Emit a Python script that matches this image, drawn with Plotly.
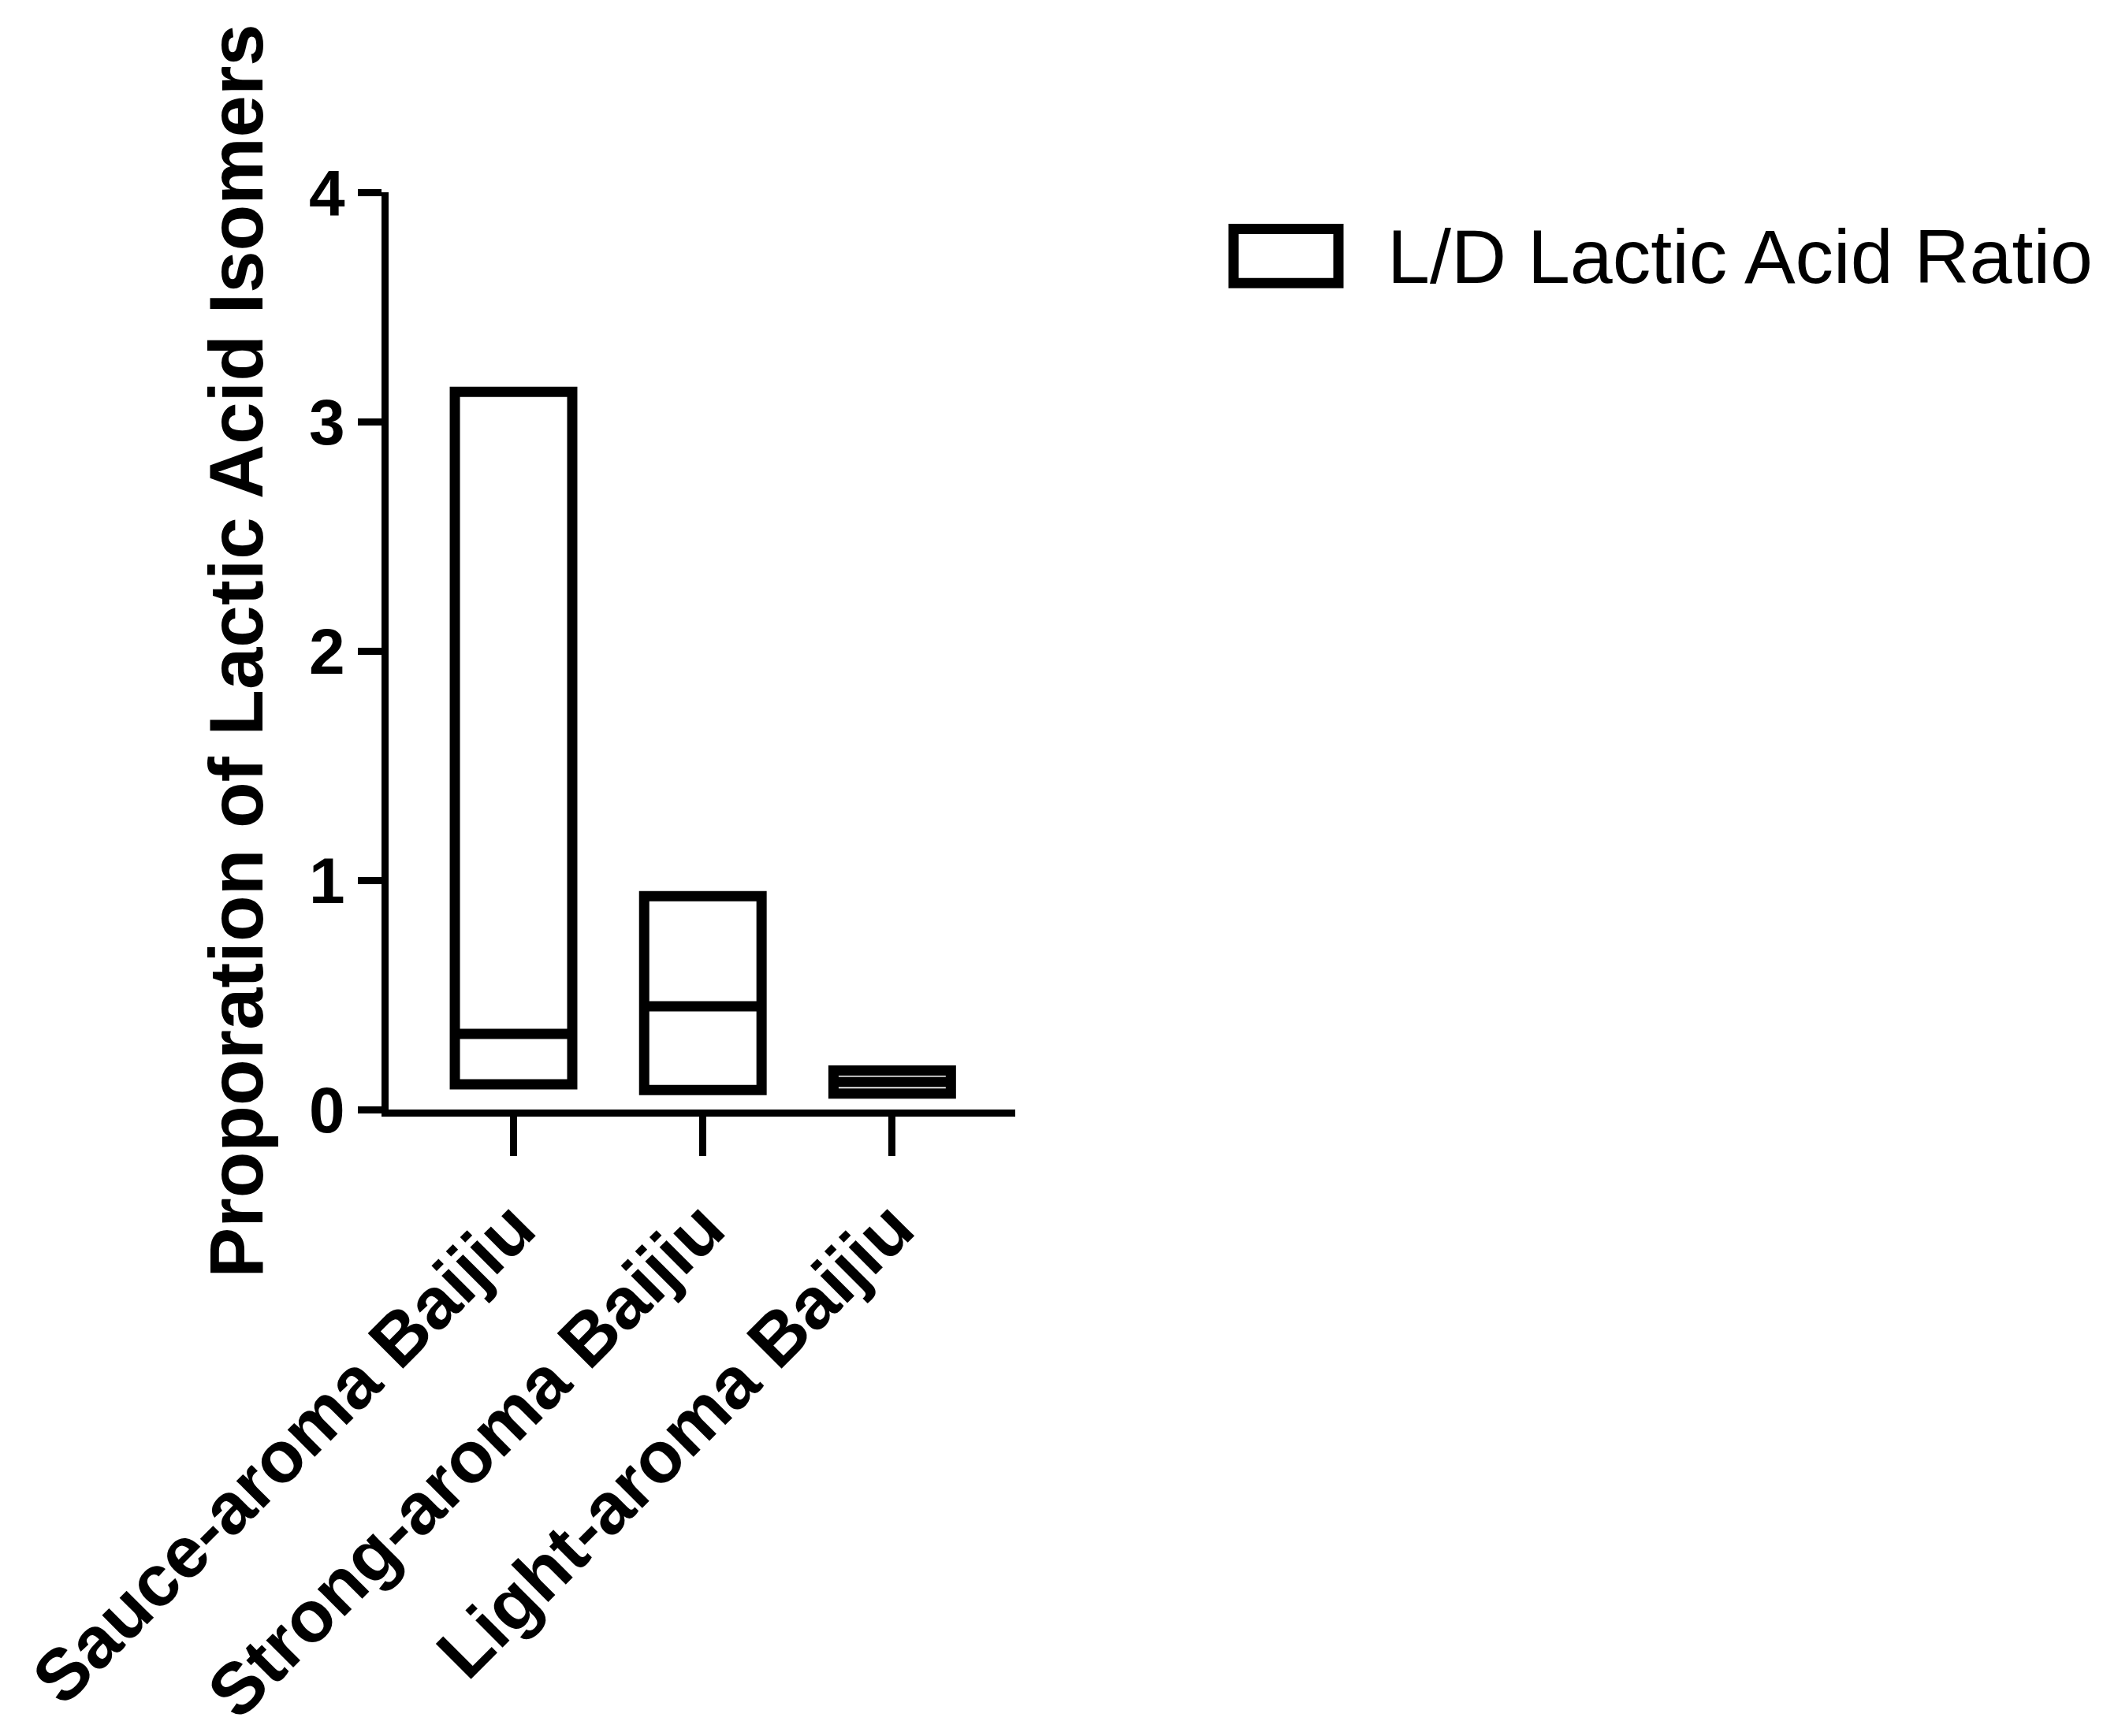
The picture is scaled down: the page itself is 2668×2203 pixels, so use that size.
import plotly.graph_objects as go

categories = ["Sauce-aroma Baijiu", "Strong-aroma Baijiu", "Light-aroma Baijiu"]
min_vals = [0.11, 0.085, 0.07]
max_vals = [3.13, 0.93, 0.17]
median_vals = [0.33, 0.45, 0.12]
y_ticks = [0, 1, 2, 3, 4]

xs = list(range(len(categories)))
bw = 0.62
lw = 13
fig = go.Figure()
fig.add_trace(go.Bar(
    x=xs, y=[mx - mn for mx, mn in zip(max_vals, min_vals)], base=min_vals,
    width=bw, marker=dict(color="white", line=dict(color="black", width=lw)),
    showlegend=False, hoverinfo="skip"))
for i, m in zip(xs, median_vals):
    fig.add_trace(go.Scatter(x=[i - bw / 2, i + bw / 2], y=[m, m], mode="lines",
                             line=dict(color="black", width=lw), showlegend=False))

fig.update_layout(
    width=2668, height=2203, plot_bgcolor="white", paper_bgcolor="white",
    margin=dict(l=485, r=1388, t=236, b=765),
    xaxis=dict(range=[-0.66, 2.65], tickvals=xs, ticktext=[f"<b>{c}</b>" for c in categories],
               tickangle=-45, ticks="outside", ticklen=50, tickwidth=9, tickcolor="black",
               showline=True, linewidth=9, linecolor="black", showgrid=False, zeroline=False,
               tickfont=dict(family="Liberation Sans", size=92, color="black")),
    yaxis=dict(range=[0, 4], tickvals=y_ticks, ticktext=[f"<b>{t}</b>" for t in y_ticks],
               ticks="outside", ticklen=30, tickwidth=9, tickcolor="black",
               showline=True, linewidth=9, linecolor="black", showgrid=False, zeroline=False,
               tickfont=dict(family="Liberation Sans", size=82, color="black"),
               title=dict(text="<b>Proporation of Lactic Acid Isomers</b>", standoff=30,
                          font=dict(family="Liberation Sans", size=96, color="black"))),
)
fig.add_shape(type="rect", xref="paper", yref="paper",
              x0=(1557 - 485) / 795, x1=(1690 - 485) / 795,
              y0=(1438 - 355) / 1202, y1=(1438 - 284) / 1202,
              line=dict(color="black", width=13), fillcolor="white")
fig.add_annotation(xref="paper", yref="paper", x=(1750 - 485) / 795, y=(1438 - 320) / 1202,
                   text="L/D Lactic Acid Ratio", showarrow=False, xanchor="left", yanchor="middle",
                   font=dict(family="Liberation Sans", size=97, color="black"))
fig.write_html("out.html")
